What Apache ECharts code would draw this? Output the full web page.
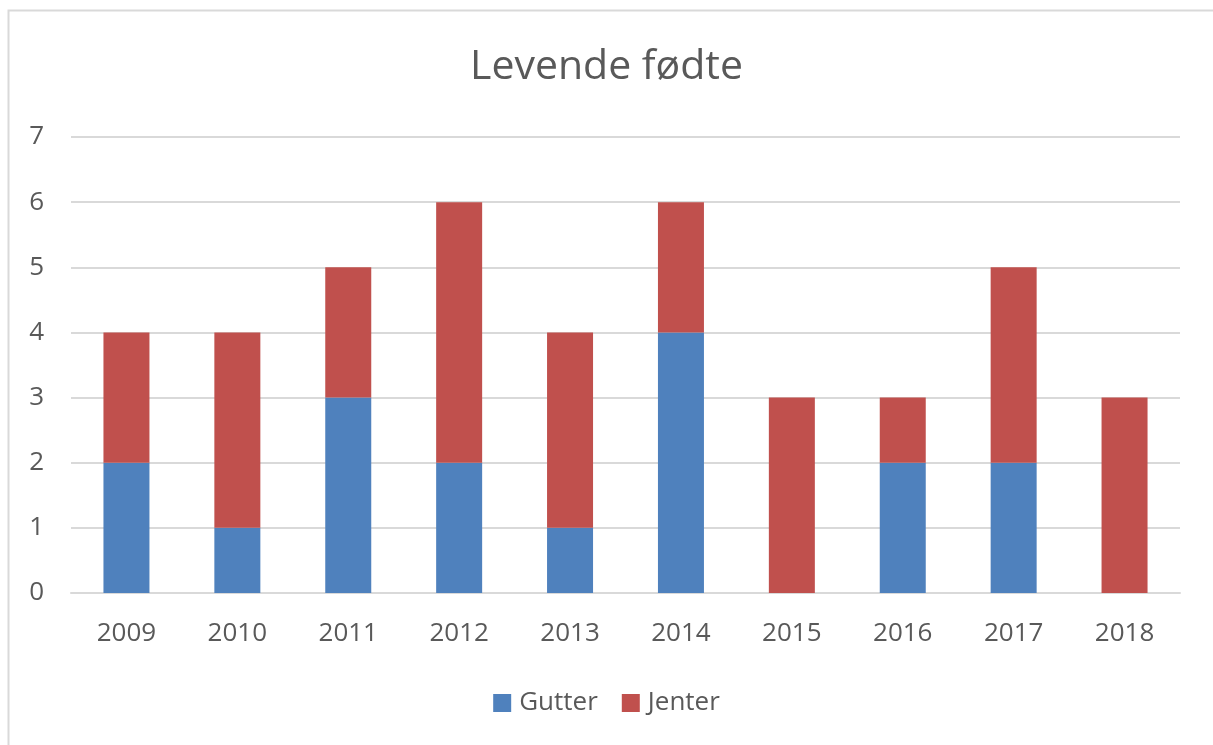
<!DOCTYPE html>
<html>
<head>
<meta charset="utf-8">
<script src="https://cdn.jsdelivr.net/npm/echarts@6/dist/echarts.min.js"></script>
<style>
  html, body { margin: 0; padding: 0; background: #fff; }
  #chart { width: 1213px; height: 745px; }
</style>
</head>
<body>
<div id="chart"></div>
<script>
// årstall og antall fødte
const years = ["2009", "2010", "2011", "2012", "2013", "2014", "2015", "2016", "2017", "2018"];
const gutter = [2, 1, 3, 2, 1, 4, 0, 2, 2, 0];
const jenter = [2, 3, 2, 4, 3, 2, 3, 1, 3, 3];

const textColor = "#595959";
const font = "Open Sans";

const chart = echarts.init(document.getElementById("chart"));

chart.setOption({
  animation: false,
  backgroundColor: "#fff",
  graphic: [
    {
      type: "rect",
      shape: { x: 8.5, y: 10.5, width: 1230, height: 760 },
      style: { fill: "none", stroke: "#d9d9d9", lineWidth: 2 },
      silent: true,
    },
  ],
  title: {
    text: "Levende fødte",
    left: "center",
    top: 42,
    textStyle: { fontFamily: font, fontSize: 41, fontWeight: "normal", color: textColor },
  },
  legend: {
    bottom: 24,
    left: "center",
    itemWidth: 18,
    itemHeight: 18,
    itemGap: 24,
    icon: "rect",
    textStyle: { fontFamily: font, fontSize: 26, color: textColor, padding: [0, 0, 0, 3] },
    data: ["Gutter", "Jenter"],
  },
  grid: { left: 71, right: 33, top: 137, bottom: 152 },
  xAxis: {
    type: "category",
    data: years,
    axisLine: { lineStyle: { color: "#d9d9d9", width: 2 } },
    axisTick: { show: false },
    axisLabel: { fontFamily: font, fontSize: 26, color: textColor, margin: 28 },
  },
  yAxis: {
    type: "value",
    min: 0,
    max: 7,
    interval: 1,
    axisLine: { show: false },
    axisTick: { show: false },
    axisLabel: { fontFamily: font, fontSize: 26, color: textColor, margin: 27 },
    splitLine: { lineStyle: { color: "#d9d9d9", width: 2 } },
  },
  series: [
    {
      name: "Gutter",
      type: "bar",
      stack: "total",
      barWidth: 46,
      itemStyle: { color: "#4F81BD" },
      data: gutter,
    },
    {
      name: "Jenter",
      type: "bar",
      stack: "total",
      barWidth: 46,
      itemStyle: { color: "#C0504D" },
      data: jenter,
    },
  ],
});
</script>
</body>
</html>
